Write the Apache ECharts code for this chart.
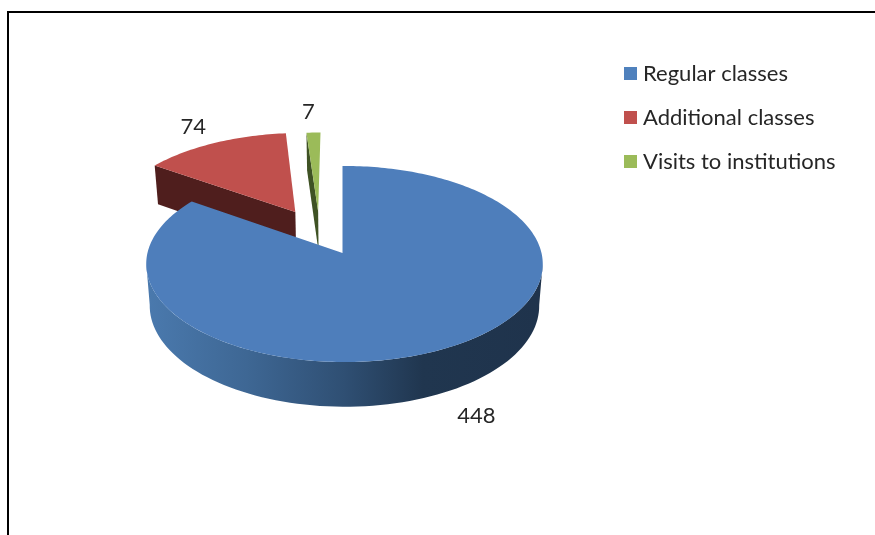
<!DOCTYPE html>
<html>
<head>
<meta charset="utf-8">
<style>html,body{margin:0;padding:0;background:#fff}#c{width:875px;height:535px}</style>
<script src="https://cdn.jsdelivr.net/npm/echarts@6/dist/echarts.min.js"></script>
</head>
<body>
<div id="c"></div>
<script>
const categories = ['Regular classes', 'Additional classes', 'Visits to institutions'];
const values = [448, 74, 7];
const colors = ['#4f81bd', '#c0504d', '#9bbb59'];
const topColors = ['#4e7ebb', '#c0504d', '#9bbb59'];
const sideColors = [null, '#4f1e1d', '#3f5224'];
const explode = [[0, 0], [-0.252, 0.445], [-0.13, 0.45]];
const labelOffset = [[34, 23], [-21, -16], [-5, -21]];
const FONT = 'Lato, "Open Sans", sans-serif';

// Tilted-disc projection: unit disc (u right, v away from the viewer) to the page.
const K = 0.1122, M = -0.01, CX = 342.5;
const LEVELS = [
  { y0: 253, ax: 197, ay: 96.8 },
  { y0: 294.4, ax: 193.5, ay: 99.7 }
];
function project(u, v, level) {
  const L = LEVELS[level];
  const w = 1 + K * v + M * u;
  return [CX + L.ax * u / w, L.y0 - L.ay * v / w];
}
const total = values.reduce((a, b) => a + b, 0);
function sliceAngles(i) {
  let s = 0;
  for (let j = 0; j < i; j++) s += values[j];
  return [s / total * 2 * Math.PI, (s + values[i]) / total * 2 * Math.PI];
}
function rim(theta, i, level) {
  return project(Math.sin(theta) + explode[i][0], Math.cos(theta) + explode[i][1], level);
}
function apex(i, level) {
  return project(explode[i][0], explode[i][1], level);
}
const wallFill = {
  type: 'linear', x: 149, y: 0, x2: 540, y2: 0, global: true,
  colorStops: [
    { offset: 0, color: '#4a79ad' },
    { offset: 0.25, color: '#3e6794' },
    { offset: 0.5, color: '#2f4f73' },
    { offset: 0.7, color: '#20364f' },
    { offset: 1, color: '#1f334c' }
  ]
};
function makeRender(i) {
  return function (params, api) {
    const value = api.value(0);
    const [a0, a1] = sliceAngles(i);
    const children = [];
    if (i === 0) {
      const up = [], down = [];
      for (let d = 96; d <= 264; d += 2) {
        const t = d * Math.PI / 180;
        up.push(rim(t, i, 0));
        down.unshift(rim(t, i, 1));
      }
      children.push({ type: 'polygon', shape: { points: up.concat(down) }, style: { fill: wallFill } });
    } else {
      children.push({
        type: 'polygon',
        shape: { points: [apex(i, 0), rim(a0, i, 0), rim(a0, i, 1), apex(i, 1)] },
        style: { fill: sideColors[i] }
      });
    }
    const pts = [apex(i, 0)];
    const steps = Math.max(4, Math.ceil((a1 - a0) / 0.02));
    for (let s = 0; s <= steps; s++) pts.push(rim(a0 + (a1 - a0) * s / steps, i, 0));
    children.push({ type: 'polygon', shape: { points: pts }, style: { fill: topColors[i] } });
    const p = rim((a0 + a1) / 2, i, i === 0 ? 1 : 0);
    children.push({
      type: 'text',
      x: p[0] + labelOffset[i][0], y: p[1] + labelOffset[i][1],
      style: { text: String(value), fill: '#262626', font: '22px ' + FONT, align: 'center', verticalAlign: 'middle' }
    });
    return { type: 'group', children };
  };
}
const chart = echarts.init(document.getElementById('c'), null, { renderer: 'canvas' });
chart.setOption({
  animation: false,
  backgroundColor: '#fff',
  graphic: [{
    type: 'rect', silent: true, z: 0,
    shape: { x: 8, y: 12, width: 1000, height: 700 },
    style: { fill: 'transparent', stroke: '#000', lineWidth: 2 }
  }],
  legend: {
    orient: 'vertical', left: 619, top: 56,
    data: categories, icon: 'rect',
    itemWidth: 13, itemHeight: 13, itemGap: 19,
    selectedMode: false,
    textStyle: { fontFamily: FONT, fontSize: 22, color: '#262626', padding: [0, 0, 0, 1], height: 25, lineHeight: 25 }
  },
  series: categories.map((name, i) => ({
    type: 'custom',
    name,
    coordinateSystem: 'none',
    silent: true,
    z: i === 0 ? 4 : 3,
    itemStyle: { color: colors[i] },
    data: [values[i]],
    renderItem: makeRender(i)
  }))
});
</script>
</body>
</html>
